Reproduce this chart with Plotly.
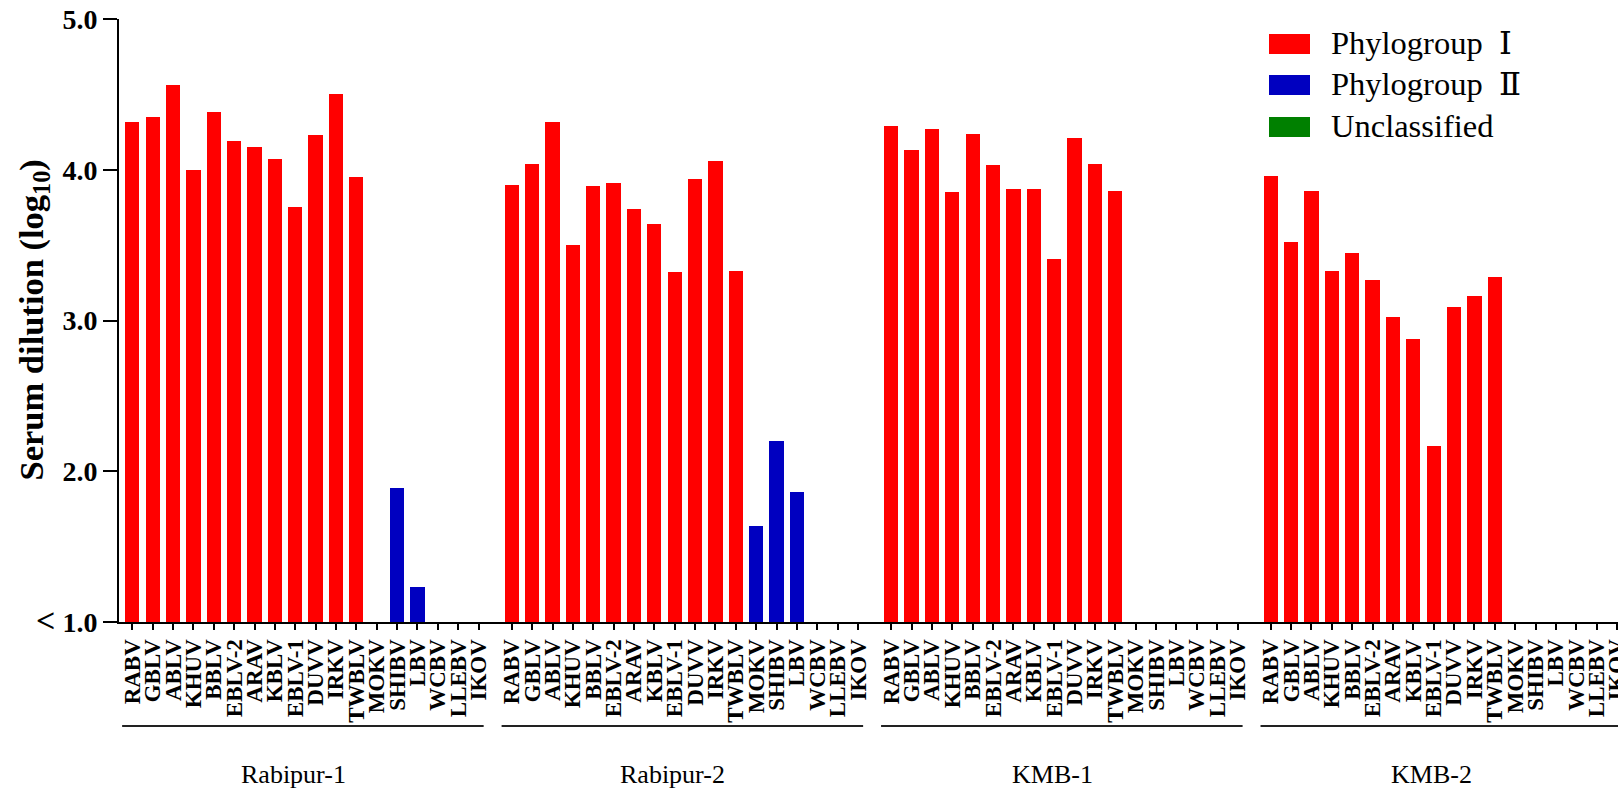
import plotly.graph_objects as go

# ---------------- data ----------------
viruses = ["RABV", "GBLV", "ABLV", "KHUV", "BBLV", "EBLV-2", "ARAV", "KBLV", "EBLV-1",
           "DUVV", "IRKV", "TWBLV", "MOKV", "SHIBV", "LBV", "WCBV", "LLEBV", "IKOV"]
phylogroup = ["I"] * 12 + ["II", "II", "II"] + ["U", "U", "U"]
vaccines = ["Rabipur-1", "Rabipur-2", "KMB-1", "KMB-2"]

rabipur_1 = [4.32, 4.35, 4.56, 4.00, 4.38, 4.19, 4.15, 4.07, 3.75, 4.23, 4.50, 3.95,
             None, 1.89, 1.23, None, None, None]
rabipur_2 = [3.90, 4.04, 4.32, 3.50, 3.89, 3.91, 3.74, 3.64, 3.32, 3.94, 4.06, 3.33,
             1.64, 2.20, 1.86, None, None, None]
kmb_1 = [4.29, 4.13, 4.27, 3.85, 4.24, 4.03, 3.87, 3.87, 3.41, 4.21, 4.04, 3.86,
         None, None, None, None, None, None]
kmb_2 = [3.96, 3.52, 3.86, 3.33, 3.45, 3.27, 3.02, 2.88, 2.17, 3.09, 3.16, 3.29,
         None, None, None, None, None, None]
series = [rabipur_1, rabipur_2, kmb_1, kmb_2]

y_tickvals = [1, 2, 3, 4, 5]
y_ticktext = ["<span style='font-size:34px;font-weight:bold'>&lt;</span> 1.0",
              "2.0", "3.0", "4.0", "5.0"]

legend_names = {"I": "Phylogroup\u00a0 Ⅰ", "II": "Phylogroup\u00a0 Ⅱ", "U": "Unclassified"}
colors = {"I": "#FF0000", "II": "#0000C0", "U": "#008000"}

# ---------------- layout geometry ----------------
W, H = 1618, 789
L, R, T, B = 119, 0, 19, 167
PW, PH = W - L - R, H - T - B
PERIOD = 18.63          # slot distance between first bars of consecutive groups
XR = [-0.653, 72.94]
FONT = "Liberation Serif, Times New Roman, DejaVu Serif, serif"


def px2paper_x(px):
    return (px - L) / PW


def py2paper_y(py):
    return (H - B - py) / PH


positions = [[g * PERIOD + i for i in range(len(viruses))] for g in range(len(vaccines))]

fig = go.Figure()
for pg in ["I", "II", "U"]:
    xs, ys = [], []
    for g, vals in enumerate(series):
        for i, v in enumerate(vals):
            if phylogroup[i] == pg:
                xs.append(positions[g][i])
                ys.append(v)
    fig.add_trace(go.Bar(x=xs, y=ys, name=legend_names[pg], width=0.7,
                         marker=dict(color=colors[pg], line=dict(width=0)),
                         showlegend=False))

tickvals = [p for grp in positions for p in grp]
ticktext = viruses * len(vaccines)

shapes = []
annotations = []
# group underlines and labels
ul_y = py2paper_y(726)
for g, name in enumerate(vaccines):
    x0 = positions[g][0] - 0.5
    x1 = positions[g][-1] + 0.25
    shapes.append(dict(type="line", xref="x", yref="paper", x0=x0, x1=x1, y0=ul_y, y1=ul_y,
                       line=dict(color="#222", width=2)))
    xc = (positions[g][0] + positions[g][-1]) / 2 - 0.6
    annotations.append(dict(x=xc, y=py2paper_y(774), xref="x", yref="paper", text=name,
                            showarrow=False, xanchor="center", yanchor="middle",
                            font=dict(family=FONT, size=26, color="black")))

# x-axis line extension left of the y axis
shapes.append(dict(type="line", xref="paper", yref="paper", x0=px2paper_x(103), x1=0,
                   y0=0, y1=0, line=dict(color="black", width=2)))

# y-axis title
annotations.append(dict(x=px2paper_x(33), y=0.5, xref="paper", yref="paper",
                        text="<b>Serum dilution (log<sub>10</sub>)</b>", textangle=-90,
                        showarrow=False, xanchor="center", yanchor="middle",
                        font=dict(family=FONT, size=34.5, color="black")))

# legend (drawn manually for wide swatches)
leg_tops = [34, 75, 117]
for k, pg in enumerate(["I", "II", "U"]):
    top = leg_tops[k]
    shapes.append(dict(type="rect", xref="paper", yref="paper",
                       x0=px2paper_x(1269), x1=px2paper_x(1310),
                       y0=py2paper_y(top + 20), y1=py2paper_y(top),
                       fillcolor=colors[pg], line=dict(width=0)))
    annotations.append(dict(x=px2paper_x(1329), y=py2paper_y(top + 9), xref="paper", yref="paper",
                            text=legend_names[pg], showarrow=False, xanchor="left", yanchor="middle",
                            font=dict(family=FONT, size=32.5, color="black")))

fig.update_layout(
    width=W, height=H,
    margin=dict(l=L, r=R, t=T, b=B, pad=0, autoexpand=False),
    paper_bgcolor="white", plot_bgcolor="white",
    bargap=0, showlegend=False,
    shapes=shapes, annotations=annotations,
    font=dict(family=FONT, color="black"),
)
fig.update_xaxes(range=XR, tickvals=tickvals, ticktext=ticktext, tickangle=-90, automargin=False,
                 ticklabeloverflow="allow",
                 tickfont=dict(family=FONT, size=23, color="black", weight="bold"),
                 showline=True, linecolor="black", linewidth=2, ticks="outside",
                 ticklen=6, tickwidth=1.5, tickcolor="black", showgrid=False, zeroline=False)
fig.update_yaxes(range=[1, 5], tickvals=y_tickvals, ticktext=y_ticktext, automargin=False,
                 tickfont=dict(family=FONT, size=28, color="black", weight="bold"),
                 showline=True, linecolor="black", linewidth=2, ticks="outside",
                 ticklen=14, tickwidth=2, tickcolor="black", showgrid=False, zeroline=False)

fig.write_html("out.html", config={"displayModeBar": False},
               post_script="document.body.style.margin='0px';document.body.style.overflow='hidden';")
